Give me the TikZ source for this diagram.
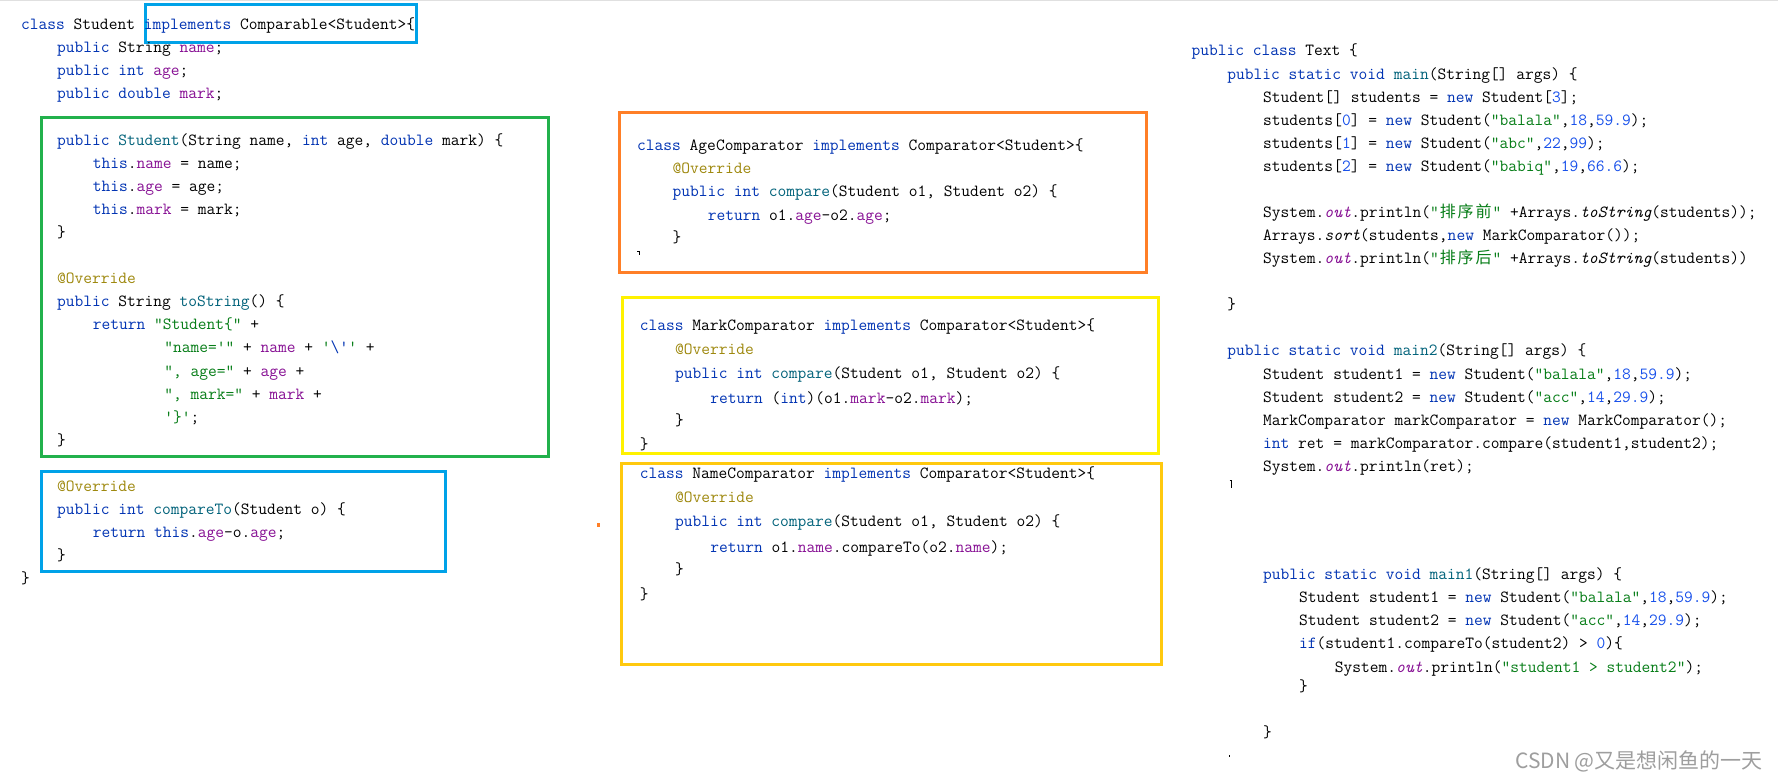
\documentclass[tikz,border=0pt]{standalone}
\usepackage{fontspec}
\newfontfamily\cjk{Noto Sans CJK SC}
\usetikzlibrary{positioning}

\definecolor{kwblue}{HTML}{0033B3}
\definecolor{fieldpurple}{HTML}{871094}
\definecolor{methteal}{HTML}{00627A}
\definecolor{annotolive}{HTML}{9E880D}
\definecolor{strgreen}{HTML}{067D17}
\definecolor{numblue}{HTML}{1750EB}
\definecolor{paintblue}{HTML}{00A2E8}
\definecolor{paintgreen}{HTML}{22B14C}
\definecolor{paintorange}{HTML}{FF7F27}
\definecolor{paintyellow}{HTML}{FFF200}
\definecolor{paintgold}{HTML}{FFC90E}

\newcommand\codefont{\fontsize{17}{20}\selectfont\ttfamily}
\newcommand\ckw[1]{\textcolor{kwblue}{#1}}
\newcommand\cfd[1]{\textcolor{fieldpurple}{#1}}
\newcommand\cmt[1]{\textcolor{methteal}{#1}}
\newcommand\can[1]{\textcolor{annotolive}{#1}}
\newcommand\cst[1]{\textcolor{strgreen}{#1}}
\newcommand\cnm[1]{\textcolor{numblue}{#1}}
\newcommand\zh[1]{\makebox[17.9pt]{\cjk\fontsize{16}{18}\selectfont #1}}

\tikzset{
	code/.style={anchor=base west, inner sep=0pt, font=\codefont},
	hlbox/.style={draw=#1, line width=3pt, rectangle, inner sep=0pt},
}

\begin{document}
\begin{tikzpicture}[x=1pt, y=-1pt]
				\useasboundingbox (0,0) rectangle (1778,781);
				\fill[white] (0,0) rectangle (1778,781);
				\draw[black!12, line width=1.5pt] (0,0.75) -- (1778,0.75);
				% marker boxes
				\node[hlbox=paintblue, minimum width=271.4, minimum height=37.7] (implbox)at(280.7, 23.85) {};
				\node[hlbox=paintgreen, minimum width=506.5, minimum height=338.7] (ctorbox)at(294.75, 286.65) {};
				\node[hlbox=paintblue, minimum width=404.3, minimum height=100] (cmpbox)at(243.65, 521.7) {};
				\node[hlbox=paintorange, minimum width=527.6, minimum height=159.4] (agebox)at(883, 192.5) {};
				\node[hlbox=paintyellow, minimum width=536.4, minimum height=156] (markbox)at(890.4, 375.3) {};
				\node[hlbox=paintgold, minimum width=540.5, minimum height=200.7] (namebox)at(891.25, 563.65) {};
				\fill[paintorange] (597,522.5) rectangle (600,527);
				% class Student
				\node[code] (s0)at(21, 29.8) {\ckw{class} Student \ckw{implements} Comparable<Student>\{};
				\node[code] (s1)at(56.8, 52.9) {\ckw{public} String \cfd{name};};
				\node[code] (s2)at(56.8, 76) {\ckw{public int} \cfd{age};};
				\node[code] (s3)at(56.8, 99) {\ckw{public double} \cfd{mark};};
				\node[code] (s5)at(56.8, 145.2) {\ckw{public} \cmt{Student}(String name, \ckw{int} age, \ckw{double} mark) \{};
				\node[code] (s6)at(92.6, 168.3) {\ckw{this}.\cfd{name} = name;};
				\node[code] (s7)at(92.6, 191.4) {\ckw{this}.\cfd{age} = age;};
				\node[code] (s8)at(92.6, 214.4) {\ckw{this}.\cfd{mark} = mark;};
				\node[code] (s9)at(56.8, 237.5) {\}};
				\node[code] (s11)at(56.8, 283.7) {\can{@Override}};
				\node[code] (s12)at(56.8, 306.8) {\ckw{public} String \cmt{toString}() \{};
				\node[code] (s13)at(92.6, 329.8) {\ckw{return} \cst{"Student\{"} +};
				\node[code] (s14)at(164.2, 352.9) {\cst{"name='"} + \cfd{name} + \cst{'}\ckw{\textbackslash'}\cst{'} +};
				\node[code] (s15)at(164.2, 376) {\cst{", age="} + \cfd{age} +};
				\node[code] (s16)at(164.2, 399.1) {\cst{", mark="} + \cfd{mark} +};
				\node[code] (s17)at(164.2, 422.2) {\cst{'\}'};};
				\node[code] (s18)at(56.8, 445.2) {\}};
				\node[code] (s20)at(56.8, 491.4) {\can{@Override}};
				\node[code] (s21)at(56.8, 514.5) {\ckw{public int} \cmt{compareTo}(Student o) \{};
				\node[code] (s22)at(92.6, 537.6) {\ckw{return this}.\cfd{age}-o.\cfd{age};};
				\node[code] (s23)at(56.8, 560.6) {\}};
				\node[code] (s24)at(21, 583.7) {\}};
				% comparators
				\node[code] (a0)at(637, 151) {\ckw{class} AgeComparator \ckw{implements} Comparator<Student>\{};
				\node[code] (a1)at(672.3, 174) {\can{@Override}};
				\node[code] (a2)at(672.3, 196.7) {\ckw{public int} \cmt{compare}(Student o1, Student o2) \{};
				\node[code] (a3)at(707.6, 220) {\ckw{return} o1.\cfd{age}-o2.\cfd{age};};
				\node[code] (a4)at(672.3, 242) {\}};
				\draw[line width=1pt] (637,251) -- (639.5,251) -- (639.5,254.5);
				\node[code] (m0)at(639.6, 330.3) {\ckw{class} MarkComparator \ckw{implements} Comparator<Student>\{};
				\node[code] (m1)at(674.9, 354) {\can{@Override}};
				\node[code] (m2)at(674.9, 378) {\ckw{public int} \cmt{compare}(Student o1, Student o2) \{};
				\node[code] (m3)at(710.2, 403) {\ckw{return} (\ckw{int})(o1.\cfd{mark}-o2.\cfd{mark});};
				\node[code] (m4)at(674.9, 425.6) {\}};
				\node[code] (m5)at(639.6, 449) {\}};
				\node[code] (n0)at(639.6, 478) {\ckw{class} NameComparator \ckw{implements} Comparator<Student>\{};
				\node[code] (n1)at(674.9, 502) {\can{@Override}};
				\node[code] (n2)at(674.9, 526.7) {\ckw{public int} \cmt{compare}(Student o1, Student o2) \{};
				\node[code] (n3)at(710.2, 552) {\ckw{return} o1.\cfd{name}.compareTo(o2.\cfd{name});};
				\node[code] (n4)at(674.9, 574) {\}};
				\node[code] (n5)at(639.6, 599) {\}};
				% class Text
				\node[code] (t0)at(1191.4, 56) {\ckw{public class} Text \{};
				\node[code] (t1)at(1227.2, 79.1) {\ckw{public static void} \cmt{main}(String[] args) \{};
				\node[code] (t2)at(1263, 102.1) {Student[] students = \ckw{new} Student[\cnm{3}];};
				\node[code] (t3)at(1263, 125.2) {students[\cnm{0}] = \ckw{new} Student(\cst{"balala"},\cnm{18},\cnm{59.9});};
				\node[code] (t4)at(1263, 148.3) {students[\cnm{1}] = \ckw{new} Student(\cst{"abc"},\cnm{22},\cnm{99});};
				\node[code] (t5)at(1263, 171.4) {students[\cnm{2}] = \ckw{new} Student(\cst{"babiq"},\cnm{19},\cnm{66.6});};
				\node[code] (t7)at(1263, 217.5) {System.\cfd{\itshape out}.println(\cst{"\zh{排}\zh{序}\zh{前}"} +Arrays.{\itshape toString}(students));};
				\node[code] (t8)at(1263, 240.5) {Arrays.{\itshape sort}(students,\ckw{new} MarkComparator());};
				\node[code] (t9)at(1263, 263.6) {System.\cfd{\itshape out}.println(\cst{"\zh{排}\zh{序}\zh{后}"} +Arrays.{\itshape toString}(students))};
				\node[code] (t11)at(1227.2, 309.8) {\}};
				\node[code] (t13)at(1227.2, 355.9) {\ckw{public static void} \cmt{main2}(String[] args) \{};
				\node[code] (t14)at(1263, 379) {Student student1 = \ckw{new} Student(\cst{"balala"},\cnm{18},\cnm{59.9});};
				\node[code] (t15)at(1263, 402) {Student student2 = \ckw{new} Student(\cst{"acc"},\cnm{14},\cnm{29.9});};
				\node[code] (t16)at(1263, 425.1) {MarkComparator markComparator = \ckw{new} MarkComparator();};
				\node[code] (t17)at(1263, 448.2) {\ckw{int} ret = markComparator.compare(student1,student2);};
				\node[code] (t18)at(1263, 471.3) {System.\cfd{\itshape out}.println(ret);};
				\draw[line width=1pt] (1229.5,480.5) -- (1231.5,480.5) -- (1231.5,488);
				\node[code] (u0)at(1263, 579.7) {\ckw{public static void} \cmt{main1}(String[] args) \{};
				\node[code] (u1)at(1298.8, 602.8) {Student student1 = \ckw{new} Student(\cst{"balala"},\cnm{18},\cnm{59.9});};
				\node[code] (u2)at(1298.8, 625.8) {Student student2 = \ckw{new} Student(\cst{"acc"},\cnm{14},\cnm{29.9});};
				\node[code] (u3)at(1298.8, 648.9) {\ckw{if}(student1.compareTo(student2) > \cnm{0})\{};
				\node[code] (u4)at(1334.6, 672) {System.\cfd{\itshape out}.println(\cst{"student1 > student2"});};
				\node[code] (u5)at(1298.8, 691) {\}};
				\node[code] (u6)at(1263, 737.6) {\}};
				\fill (1228.8,755.2) rectangle (1230.4,756.8);
				\node[anchor=east, inner sep=0pt, text=black!38, font=\cjk\fontsize{21}{24}\selectfont] (watermark)at(1763, 761) {CSDN @又是想闲鱼的一天};
			\end{tikzpicture}
\end{document}
